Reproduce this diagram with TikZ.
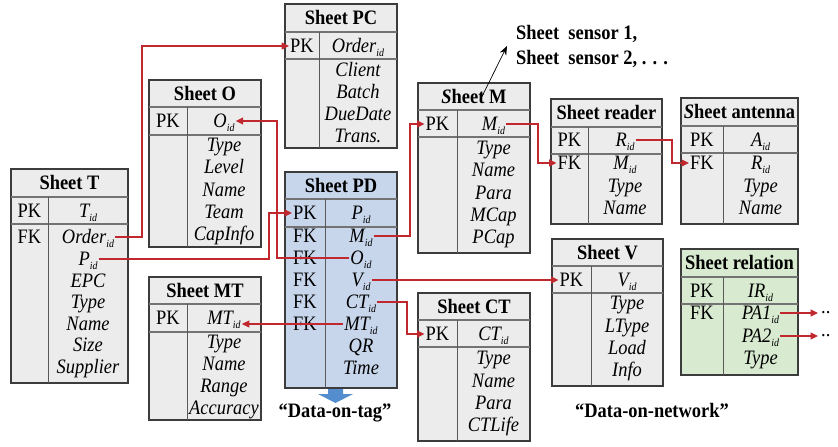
\documentclass[tikz,border=0pt]{standalone}
\usepackage{fontspec}
\setmainfont{Liberation Serif}[FakeStretch=0.9]
\usetikzlibrary{arrows.meta}
\definecolor{relred}{RGB}{192,40,45}
\definecolor{tabgray}{RGB}{236,236,236}
\definecolor{tabblue}{RGB}{200,214,236}
\definecolor{tabgreen}{RGB}{216,234,208}
\definecolor{tabline}{RGB}{60,60,60}
\definecolor{arrblue}{RGB}{84,141,205}
\newcommand{\sid}{\raisebox{-4pt}{\fontsize{11}{11}\selectfont\itshape id}}
\newcommand{\mysheet}[8]{%
  \filldraw[fill=#1, draw=tabline, line width=1.3pt] (#2,#5) rectangle (#4,#8);
  \draw[sepline] (#2,#6) -- (#4,#6) (#2,#7) -- (#4,#7);
  \draw[divline] (#3,#6) -- (#3,#8);}
\begin{document}
\begin{tikzpicture}[x=1pt, y=-1pt,
  sepline/.style={draw=black!55, line width=1.2pt},
  divline/.style={draw=black!65, line width=0.8pt},
  fld/.style={inner sep=1pt, text height=13pt, text depth=0pt, font=\fontsize{20.5}{22}\selectfont\itshape},
  key/.style={inner sep=1pt, text height=13pt, text depth=0pt, font=\fontsize{20.5}{22}\selectfont},
  ttl/.style={inner sep=1pt, text height=13pt, text depth=0pt, font=\fontsize{20.5}{22}\selectfont\bfseries},
  rel/.style={draw=relred, line width=1.1pt, -{Triangle[length=7.5pt,width=7pt]}},
  blk/.style={draw=black, line width=0.7pt, -{Stealth[length=9pt,width=7pt]}}]
\fill[white] (0,0) rectangle (838,447);
\useasboundingbox (0,0) rectangle (838,447);

% ---------- Sheet T
\mysheet{tabgray}{11}{48}{128}{169}{197}{224}{383}
\node[ttl] (T-title) at (69.5,183) {Sheet T};
\node[key] (T-pk) at (29.5,210.5) {PK};
\node[fld] (T-tid) at (88,210.5) {T\sid};
\node[key] (T-fk) at (29.5,237) {FK};
\node[fld] (T-order) at (88,237) {Order\sid};
\node[fld] (T-pid) at (88,259) {P\sid};
\node[fld] (T-epc) at (88,280.5) {EPC};
\node[fld] (T-type) at (88,302) {Type};
\node[fld] (T-name) at (88,323.5) {Name};
\node[fld] (T-size) at (88,345) {Size};
\node[fld] (T-sup) at (88,366.5) {Supplier};

% ---------- Sheet PC
\mysheet{tabgray}{285}{319}{397}{4}{32}{59}{148}
\node[ttl] (PC-title) at (341,18) {Sheet PC};
\node[key] (PC-pk) at (302,46) {PK};
\node[fld] (PC-order) at (358,46) {Order\sid};
\node[fld] (PC-client) at (358,70) {Client};
\node[fld] (PC-batch) at (358,92) {Batch};
\node[fld] (PC-due) at (358,114) {DueDate};
\node[fld] (PC-trans) at (358,136) {Trans.};

% ---------- Sheet O
\mysheet{tabgray}{149}{187}{261}{80}{107}{135}{247}
\node[ttl] (O-title) at (205,93.5) {Sheet O};
\node[key] (O-pk) at (168,121) {PK};
\node[fld] (O-oid) at (224,121) {O\sid};
\node[fld] (O-type) at (224,145) {Type};
\node[fld] (O-level) at (224,167) {Level};
\node[fld] (O-name) at (224,190) {Name};
\node[fld] (O-team) at (224,212) {Team};
\node[fld] (O-cap) at (224,234) {CapInfo};

% ---------- Sheet PD
\mysheet{tabblue}{285}{325}{397}{172}{199}{227}{388}
\node[ttl] (PD-title) at (341,185.5) {Sheet PD};
\node[key] (PD-pk) at (305,213) {PK};
\node[fld] (PD-pid) at (361,213) {P\sid};
\node[key] (PD-fk1) at (305,236) {FK};
\node[fld] (PD-mid) at (361,236) {M\sid};
\node[key] (PD-fk2) at (305,258) {FK};
\node[fld] (PD-oid) at (361,258) {O\sid};
\node[key] (PD-fk3) at (305,280) {FK};
\node[fld] (PD-vid) at (361,280) {V\sid};
\node[key] (PD-fk4) at (305,302) {FK};
\node[fld] (PD-ctid) at (361,302) {CT\sid};
\node[key] (PD-fk5) at (305,324) {FK};
\node[fld] (PD-mtid) at (361,324) {MT\sid};
\node[fld] (PD-qr) at (361,346) {QR};
\node[fld] (PD-time) at (361,368) {Time};

% ---------- Sheet MT
\mysheet{tabgray}{149}{187}{261}{277}{304}{332}{420}
\node[ttl] (MT-title) at (205,290.5) {Sheet MT};
\node[key] (MT-pk) at (168,318) {PK};
\node[fld] (MT-mtid) at (224,318) {MT\sid};
\node[fld] (MT-type) at (224,342) {Type};
\node[fld] (MT-name) at (224,364) {Name};
\node[fld] (MT-range) at (224,386) {Range};
\node[fld] (MT-acc) at (224,408) {Accuracy};

% ---------- Sheet M
\mysheet{tabgray}{418}{457}{530}{83}{110}{137}{253}
\node[ttl] (M-title) at (474,96.5) {{\itshape S}heet M};
\node[key] (M-pk) at (437.5,124) {PK};
\node[fld] (M-mid) at (493.5,124) {M\sid};
\node[fld] (M-type) at (493.5,148) {Type};
\node[fld] (M-name) at (493.5,170) {Name};
\node[fld] (M-para) at (493.5,193) {Para};
\node[fld] (M-mcap) at (493.5,215) {MCap};
\node[fld] (M-pcap) at (493.5,237) {PCap};

% ---------- Sheet reader
\mysheet{tabgray}{551}{588}{662}{99}{127}{154}{224}
\node[ttl] (R-title) at (606.5,113) {Sheet reader};
\node[key] (R-pk) at (569.5,140) {PK};
\node[fld] (R-rid) at (625,140) {R\sid};
\node[key] (R-fk) at (569.5,163) {FK};
\node[fld] (R-mid) at (625,163) {M\sid};
\node[fld] (R-type) at (625,186) {Type};
\node[fld] (R-name) at (625,208) {Name};

% ---------- Sheet antenna
\mysheet{tabgray}{681}{723}{798}{98}{126}{153}{224}
\node[ttl] (A-title) at (739.5,112) {{\itshape S}heet antenna};
\node[key] (A-pk) at (702,140) {PK};
\node[fld] (A-aid) at (760.5,140) {A\sid};
\node[key] (A-fk) at (702,163) {FK};
\node[fld] (A-rid) at (760.5,163) {R\sid};
\node[fld] (A-type) at (760.5,186) {Type};
\node[fld] (A-name) at (760.5,208) {Name};

% ---------- Sheet relation
\mysheet{tabgreen}{681}{723}{798}{249}{277}{304}{375}
\node[ttl] (REL-title) at (739.5,263) {Sheet relation};
\node[key] (REL-pk) at (702,291) {PK};
\node[fld] (REL-irid) at (760.5,291) {IR\sid};
\node[key] (REL-fk) at (702,313) {FK};
\node[fld] (REL-pa1) at (760.5,313) {PA1\sid};
\node[fld] (REL-pa2) at (760.5,336) {PA2\sid};
\node[fld] (REL-type) at (760.5,358) {Type};
\node[anchor=base west, inner sep=3pt, font=\fontsize{20.5}{22}\selectfont] (dots1) at (818,313) {..};
\node[anchor=base west, inner sep=3pt, font=\fontsize{20.5}{22}\selectfont] (dots2) at (818,336) {..};

% ---------- Sheet V
\mysheet{tabgray}{552}{591}{663}{239}{266}{293}{386}
\node[ttl] (V-title) at (607.5,252.5) {Sheet V};
\node[key] (V-pk) at (571.5,280) {PK};
\node[fld] (V-vid) at (627,280) {V\sid};
\node[fld] (V-type) at (627,303) {Type};
\node[fld] (V-ltype) at (627,326) {LType};
\node[fld] (V-load) at (627,348) {Load};
\node[fld] (V-info) at (627,370) {Info};

% ---------- Sheet CT
\mysheet{tabgray}{418}{457}{530}{293}{320}{347}{441}
\node[ttl] (CT-title) at (474,306.5) {Sheet CT};
\node[key] (CT-pk) at (437.5,334) {PK};
\node[fld] (CT-ctid) at (493.5,334) {CT\sid};
\node[fld] (CT-type) at (493.5,358) {Type};
\node[fld] (CT-name) at (493.5,381) {Name};
\node[fld] (CT-para) at (493.5,403) {Para};
\node[fld] (CT-life) at (493.5,425) {CTLife};

% ---------- labels
\node[ttl, anchor=west] (sens1) at (515,33) {Sheet\ \ sensor 1,};
\node[ttl, anchor=west] (sens2) at (515,58) {Sheet\ \ sensor 2, . . .};
\node[ttl] (tagtxt) at (335,411) {“Data-on-tag”};
\node[ttl] (nettxt) at (652,411) {“Data-on-network”};
\fill[arrblue] (328,389) -- (343,389) -- (343,394) -- (353,394) -- (335.5,403) -- (318,394) -- (328,394) -- cycle;

% ---------- lanes
\coordinate (lane1) at (142,0);
\coordinate (lane2) at (269,0);
\coordinate (lane3) at (277,0);
\coordinate (lane4) at (410,0);
\coordinate (lane6) at (407,0);
\coordinate (lane8) at (538,0);
\coordinate (lane9) at (672,0);
\coordinate (sensend) at (507,46);

% ---------- connectors
\draw[blk] ([xshift=6pt,yshift=-4pt]M-title.center) -- (sensend);
\draw[rel] (T-order.east) -- (T-order.east -| lane1) |- (PC-pk.west);
\draw[rel] (T-pid.east) -- (T-pid.east -| lane2) |- (PD-pk.west);
\draw[rel] (PD-oid.west) -- (PD-oid.west -| lane3) |- (O-oid.east);
\draw[rel] (PD-mid.east) -- (PD-mid.east -| lane4) |- (M-pk.west);
\draw[rel] (PD-vid.east) -- (PD-vid.east -| V-pk.west);
\draw[rel] (PD-ctid.east) -- (PD-ctid.east -| lane6) |- (CT-pk.west);
\draw[rel] (PD-mtid.west) -- (PD-mtid.west -| MT-mtid.east);
\draw[rel] (M-mid.east) -- (M-mid.east -| lane8) |- (R-fk.west);
\draw[rel] (R-rid.east) -- (R-rid.east -| lane9) |- (A-fk.west);
\draw[rel] (REL-pa1.east) -- (REL-pa1.east -| dots1.west);
\draw[rel] (REL-pa2.east) -- (REL-pa2.east -| dots2.west);
\end{tikzpicture}
\end{document}
